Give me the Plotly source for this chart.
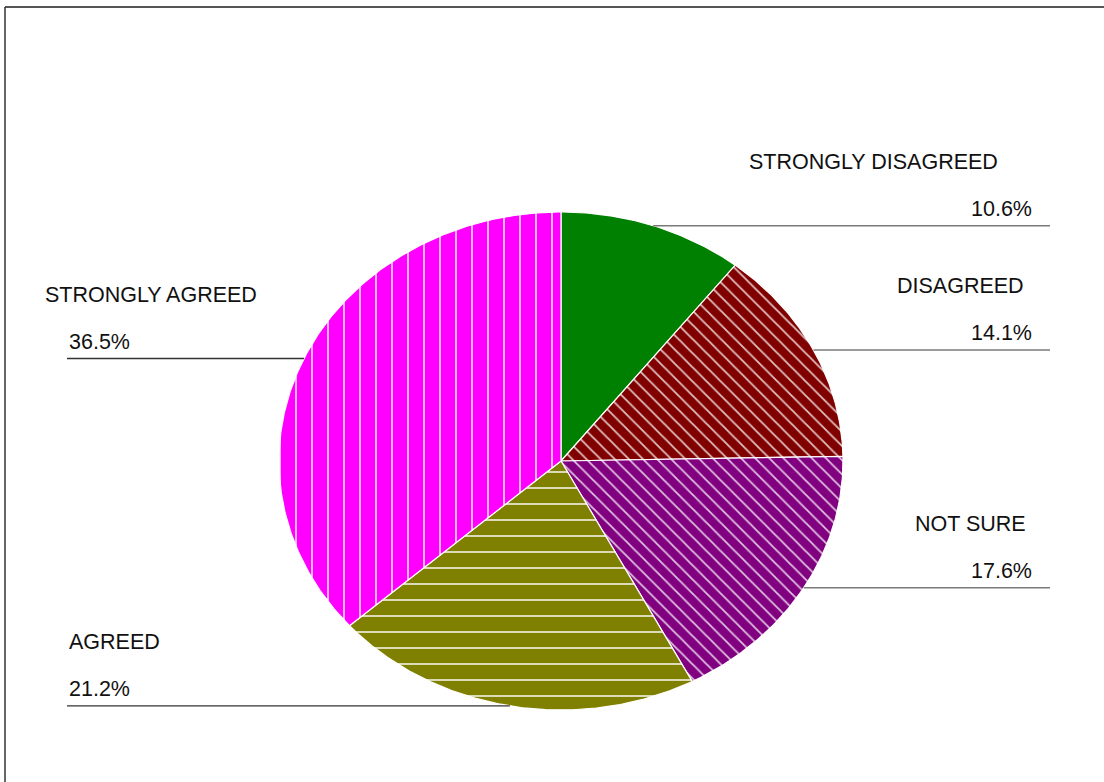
import numpy as np
import plotly.graph_objects as go

# Survey responses, clockwise from 12 o'clock
categories = ["STRONGLY DISAGREED", "DISAGREED", "NOT SURE", "AGREED", "STRONGLY AGREED"]
percentages = [10.6, 14.1, 17.6, 21.2, 36.5]

# Slice styling
colors = ["#008000", "#800000", "#800080", "#808000", "#ff00ff"]
pattern_shapes = ["", "\\", "\\", "-", "|"]
pattern_sizes = [8, 10, 10, 16, 16]
pattern_solidity = [0.0, 0.18, 0.18, 0.12, 0.12]

# Elliptical pie geometry (plot area is mapped 1:1 to pixels)
CX, CY, RX, RY = 561, 461, 282, 249
LEFT_END, RIGHT_END = 67, 1050
FONT = dict(family="Liberation Sans, Arial, sans-serif", size=21.5, color="#111111")

# Name label horizontal position (left edge) for each category
name_x = [747, 895, 913, 67, 43]


def edge_point(frac):
    """Point on the ellipse at a cumulative fraction measured clockwise from the top."""
    t = 2 * np.pi * frac
    return CX + RX * np.sin(t), CY - RY * np.cos(t)


fig = go.Figure()

total = float(sum(percentages))
cum = np.concatenate([[0.0], np.cumsum(percentages) / total])

for i, cat in enumerate(categories):
    a0, a1 = cum[i], cum[i + 1]
    fr = np.linspace(a0, a1, max(int((a1 - a0) * 720), 8))
    xs, ys = edge_point(fr)
    px = np.concatenate([[CX], xs, [CX]])
    py = np.concatenate([[CY], ys, [CY]])
    kw = {}
    if pattern_shapes[i]:
        kw["fillpattern"] = dict(
            shape=pattern_shapes[i], bgcolor=colors[i], fgcolor="#ffffff",
            fgopacity=0.75, size=pattern_sizes[i], solidity=pattern_solidity[i],
            fillmode="replace",
        )
    fig.add_trace(go.Scatter(
        x=px, y=py, mode="lines", fill="toself", fillcolor=colors[i],
        line=dict(color="white", width=1.2), name=cat, hoverinfo="name",
        **kw,
    ))

# Leader lines and labels
annotations = []
for i, cat in enumerate(categories):
    mid = (cum[i] + cum[i + 1]) / 2
    ex, ey = edge_point(mid)
    right_side = ex > CX
    end_x = RIGHT_END if right_side else LEFT_END
    fig.add_trace(go.Scatter(
        x=[ex, end_x], y=[ey, ey], mode="lines",
        line=dict(color="#7a7a7a" if right_side else "#333333", width=1.4),
        hoverinfo="skip", showlegend=False,
    ))
    pct = f"{percentages[i]:.1f}%"
    if right_side:
        annotations.append(dict(x=end_x - 16, y=ey - 3, text=pct, xanchor="right",
                                yanchor="bottom", showarrow=False, font=FONT))
    else:
        annotations.append(dict(x=end_x, y=ey - 3, text=pct, xanchor="left",
                                yanchor="bottom", showarrow=False, font=FONT))
    annotations.append(dict(x=name_x[i], y=ey - 50, text=cat, xanchor="left",
                            yanchor="bottom", showarrow=False, font=FONT))

fig.update_layout(
    width=1104, height=782, autosize=False,
    margin=dict(l=0, r=0, t=0, b=0),
    paper_bgcolor="white", plot_bgcolor="white",
    showlegend=False,
    xaxis=dict(range=[0, 1104], visible=False, fixedrange=True),
    yaxis=dict(range=[782, 0], visible=False, fixedrange=True),
    annotations=annotations,
    shapes=[
        dict(type="line", xref="x", yref="y", x0=5, y0=7, x1=1110, y1=7,
             line=dict(color="#555555", width=2)),
        dict(type="line", xref="x", yref="y", x0=5, y0=7, x1=5, y1=790,
             line=dict(color="#333333", width=1.5)),
    ],
)

fig.write_html("out.html")
